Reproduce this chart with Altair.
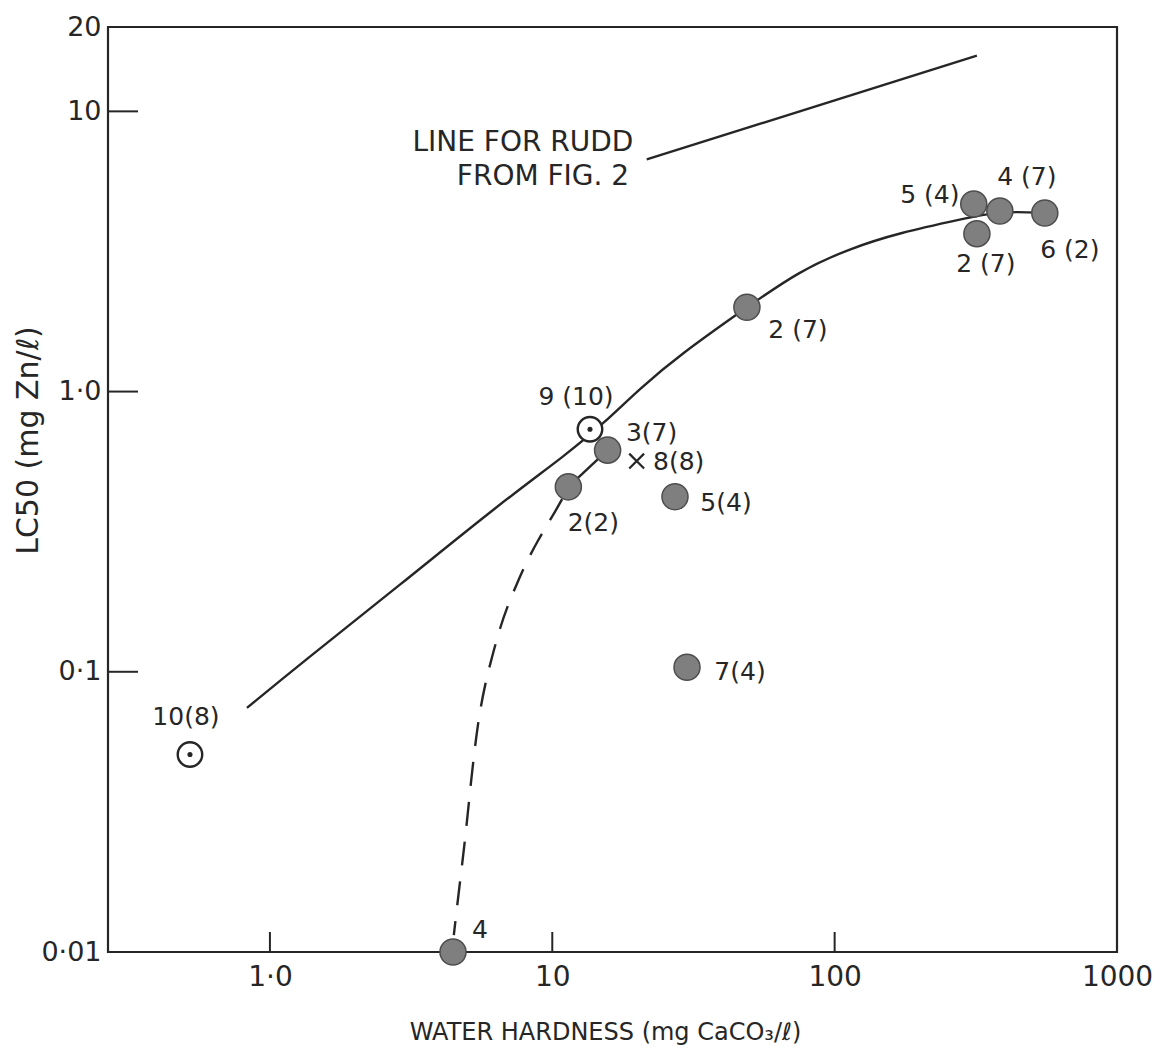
import altair as alt
import pandas as pd

W, H = 1009, 925
FONT = "DejaVu Sans"
INK = "#262626"

# ---- axes -------------------------------------------------------------
x_ticks = [1, 10, 100, 1000]
x_tick_labels = ["1·0", "10", "100", "1000"]
y_ticks = [0.01, 0.1, 1, 10, 20]
y_tick_labels = ["0·01", "0·1", "1·0", "10", "20"]
x_inner_ticks = [1, 10, 100]
y_inner_ticks = [0.1, 1, 10]

# ---- data points ------------------------------------------------------
filled_x = [4.45, 11.4, 15.7, 27.2, 30.0, 48.9, 311, 384.7, 319, 555]
filled_y = [0.01, 0.457, 0.618, 0.4215, 0.1038, 2.0, 4.67, 4.41, 3.66, 4.34]
filled_labels = ["4", "2(2)", "3(7)", "5(4)", "7(4)", "2 (7)", "5 (4)", "4 (7)", "2 (7)", "6 (2)"]

open_x = [13.6, 0.521]
open_y = [0.734, 0.0507]
open_labels = ["9 (10)", "10(8)"]

cross_x = [19.9]
cross_y = [0.565]
cross_labels = ["8(8)"]

# ---- curves -----------------------------------------------------------
solid_x = [0.829, 1.277, 2.887, 6.52, 11.27, 15.37, 20.4, 28.3, 48.9, 75.3, 113.2, 170.2, 284.6, 384.7, 555]
solid_y = [0.0743, 0.1064, 0.204, 0.398, 0.598, 0.777, 1.025, 1.352, 2.0, 2.70, 3.24, 3.69, 4.13, 4.41, 4.34]

link_x = [11.4, 15.7]
link_y = [0.457, 0.618]

dashed_x = [11.4, 10.64, 9.65, 8.90, 8.13, 7.56, 6.97, 6.53, 6.11, 5.77, 5.45, 5.15, 4.91, 4.67, 4.48]
dashed_y = [0.457, 0.398, 0.338, 0.2945, 0.248, 0.2109, 0.1734, 0.1438, 0.1126, 0.0896, 0.0663, 0.0406, 0.0249, 0.0166, 0.01149]

rudd_x = [21.6, 319]
rudd_y = [6.74, 15.8]

note_lines = ["LINE FOR RUDD", "FROM FIG. 2"]
note_x = [7.87, 9.27]
note_y = [7.74, 5.82]

# label offsets (pixels) relative to their points
filled_off = [(27, -22), (25, 36), (44, -17), (51, 6), (53, 5), (51, 23), (-44, -9), (27, -34), (9, 30), (25, 37)]
open_off = [(-14, -32), (-4, -37)]
cross_off = [(42, 1)]


def label_expr(vals, labs):
    parts = [f"datum.value == {v} ? '{l}'" for v, l in zip(vals, labs)]
    return " : ".join(parts) + " : ''"


xs = alt.Scale(type="log", domain=[0.267, 1000], nice=False)
ys = alt.Scale(type="log", domain=[0.01, 20], nice=False)

xaxis = alt.Axis(
    values=x_ticks, labelExpr=label_expr(x_ticks, x_tick_labels), ticks=False, tickSize=0,
    domain=False, grid=False, labelFont=FONT, labelFontSize=28, labelColor=INK,
    labelPadding=11, labelOverlap=False, labelFlush=False,
    title="WATER HARDNESS (mg CaCO₃/ℓ)", titleFont=FONT, titleFontSize=24,
    titleFontWeight="normal", titleColor=INK, titleX=497, titleY=80,
    titleAlign="center", titleBaseline="middle",
)
yaxis = alt.Axis(
    values=y_ticks, labelExpr=label_expr(y_ticks, y_tick_labels), ticks=False, tickSize=0,
    domain=False, grid=False, labelFont=FONT, labelFontSize=27, labelColor=INK,
    labelPadding=7, labelOverlap=False, labelFlush=False,
    title="LC50 (mg Zn/ℓ)", titleFont=FONT, titleFontSize=30, titleFontWeight="normal",
    titleColor=INK, titleX=-80, titleY=413, titleAngle=270, titleAlign="center",
    titleBaseline="middle",
)


def X():
    return alt.X("x:Q", scale=xs, axis=xaxis)


def Y():
    return alt.Y("y:Q", scale=ys, axis=yaxis)


def line_layer(xv, yv, **kw):
    df = pd.DataFrame({"x": xv, "y": yv, "i": list(range(len(xv)))})
    return alt.Chart(df).mark_line(color=INK, strokeWidth=2.4, **kw).encode(
        x=X(), y=Y(), order=alt.Order("i:Q")
    )


layers = []

# inner tick marks
layers.append(
    alt.Chart(pd.DataFrame({"y": y_inner_ticks})).mark_rule(color=INK, strokeWidth=2).encode(
        y=Y(), x=alt.value(0), x2=alt.value(30)
    )
)
layers.append(
    alt.Chart(pd.DataFrame({"x": x_inner_ticks})).mark_rule(color=INK, strokeWidth=2).encode(
        x=X(), y=alt.value(H), y2=alt.value(H - 20)
    )
)

# curves
layers.append(line_layer(solid_x, solid_y, interpolate="basis"))
layers.append(line_layer(link_x, link_y))
layers.append(line_layer(dashed_x, dashed_y, interpolate="basis", strokeDash=[24, 16], strokeDashOffset=-14))
layers.append(line_layer(rudd_x, rudd_y))

# note text
layers.append(
    alt.Chart(pd.DataFrame({"x": note_x, "y": note_y, "t": note_lines})).mark_text(
        font=FONT, fontSize=28, color=INK, align="center", baseline="middle"
    ).encode(x=X(), y=Y(), text="t:N")
)

# filled points
layers.append(
    alt.Chart(pd.DataFrame({"x": filled_x, "y": filled_y})).mark_point(
        filled=True, shape="circle", size=680, fill="#7f7f7f", stroke="#4d4d4d",
        strokeWidth=1.5, opacity=1,
    ).encode(x=X(), y=Y())
)

# open points with centre dot
layers.append(
    alt.Chart(pd.DataFrame({"x": open_x, "y": open_y})).mark_point(
        shape="circle", size=600, fill="white", filled=False, stroke=INK,
        strokeWidth=2.4, opacity=1, fillOpacity=1,
    ).encode(x=X(), y=Y())
)
layers.append(
    alt.Chart(pd.DataFrame({"x": open_x, "y": open_y})).mark_point(
        filled=True, shape="circle", size=26, color=INK, opacity=1
    ).encode(x=X(), y=Y())
)

# cross point
layers.append(
    alt.Chart(pd.DataFrame({"x": cross_x, "y": cross_y})).mark_point(
        shape="M-1,-1L1,1M-1,1L1,-1", size=220, filled=False, stroke=INK, strokeWidth=2.2, opacity=1
    ).encode(x=X(), y=Y())
)

# point labels
for xv, yv, labs, offs in [
    (filled_x, filled_y, filled_labels, filled_off),
    (open_x, open_y, open_labels, open_off),
    (cross_x, cross_y, cross_labels, cross_off),
]:
    for xi, yi, lab, (dx, dy) in zip(xv, yv, labs, offs):
        layers.append(
            alt.Chart(pd.DataFrame({"x": [xi], "y": [yi], "t": [lab]})).mark_text(
                font=FONT, fontSize=25, color=INK, align="center", baseline="middle", dx=dx, dy=dy
            ).encode(x=X(), y=Y(), text="t:N")
        )

chart = (
    alt.layer(*layers)
    .properties(
        width=W, height=H,
        autosize=alt.AutoSizeParams(type="none"),
        padding={"left": 100, "top": 19, "right": 50, "bottom": 95},
        background="white",
    )
    .configure_view(stroke=INK, strokeWidth=2.2)
)

chart.save("out.html", embed_options={"renderer": "svg", "actions": False})
